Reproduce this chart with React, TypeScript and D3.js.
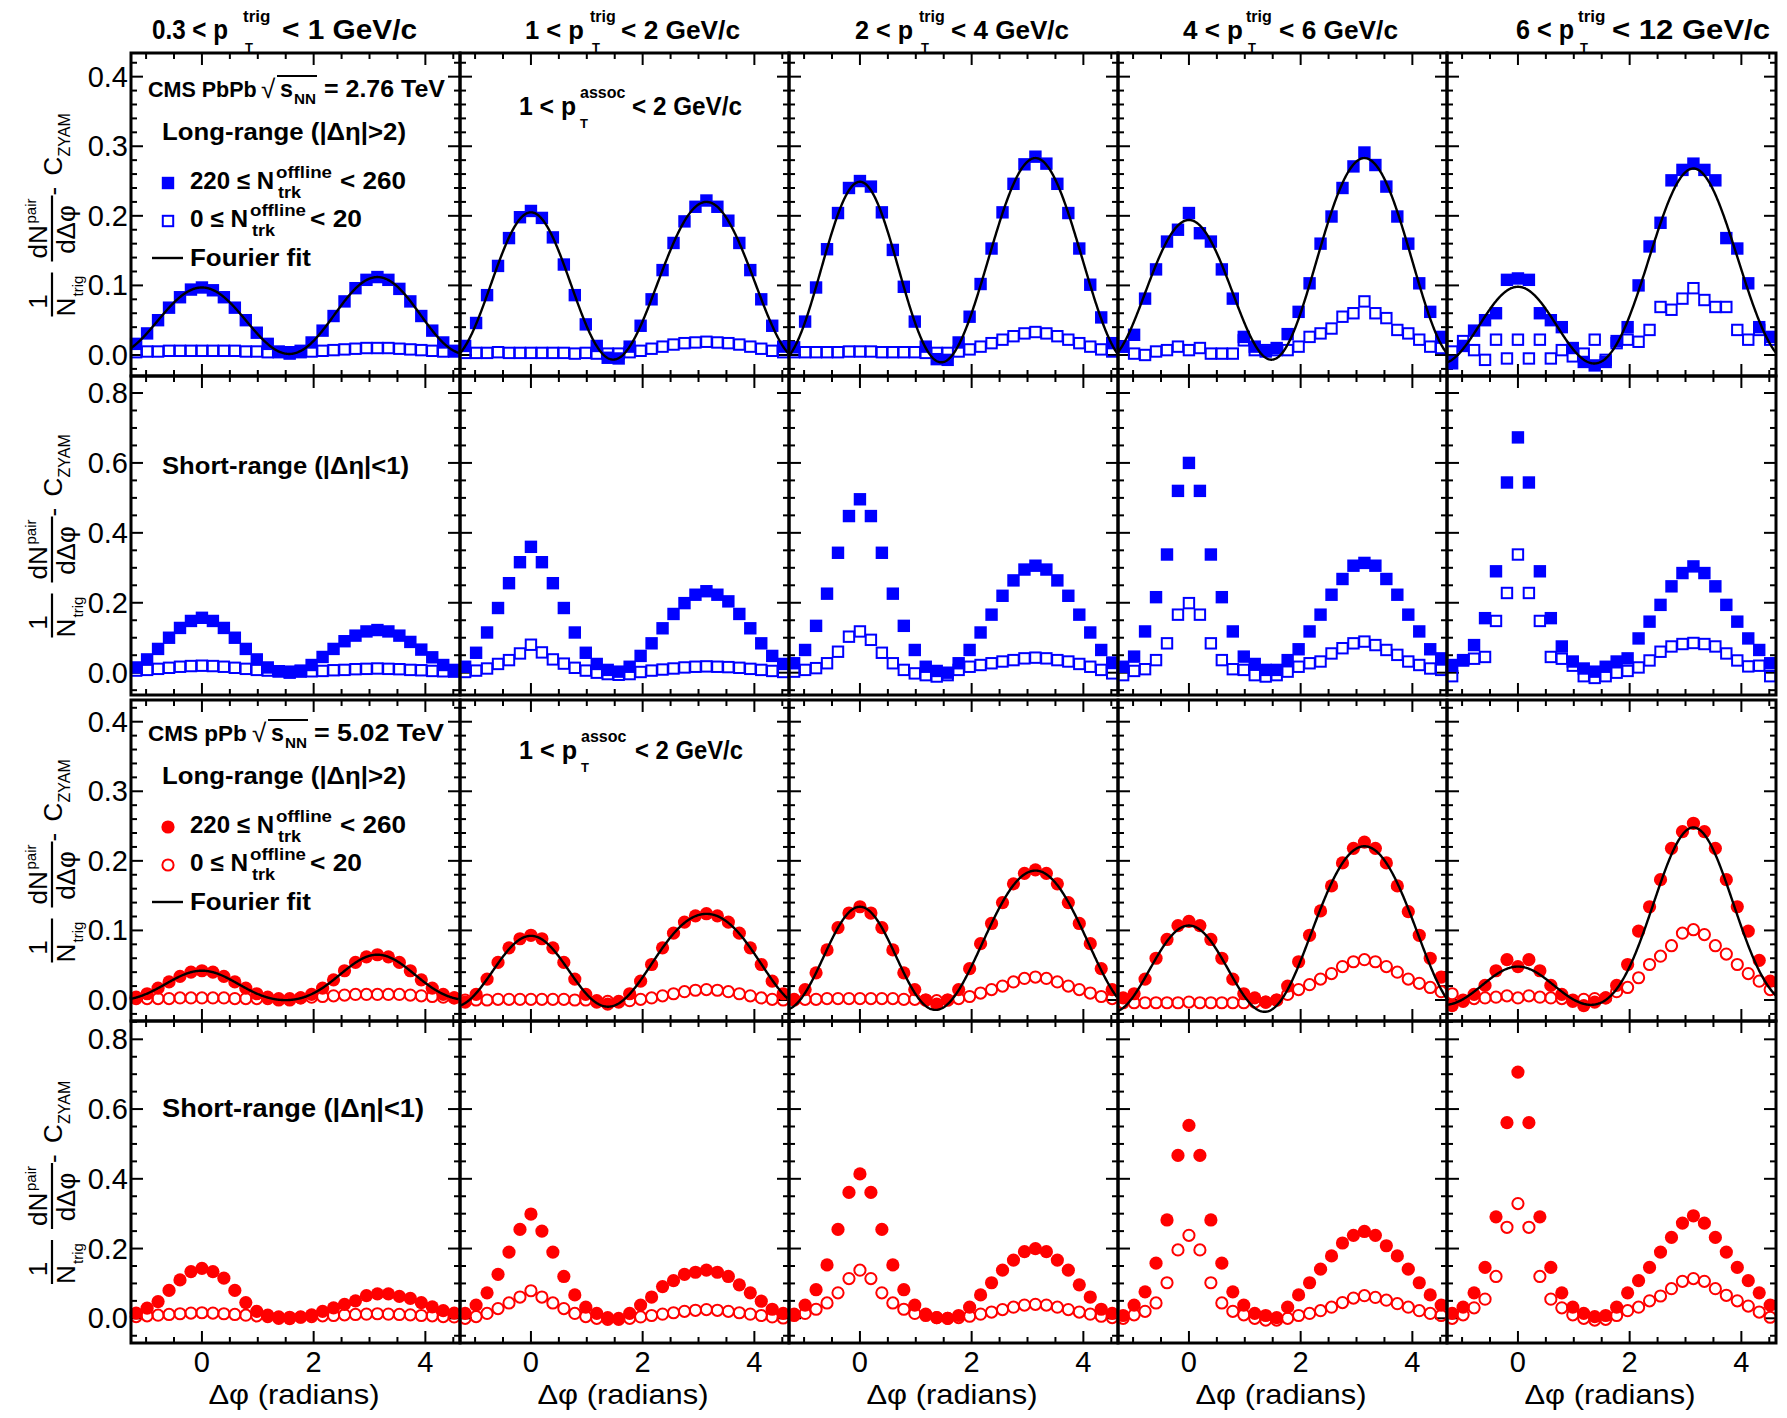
import React from "react";
import * as d3 from "d3";

const FONT = "'Liberation Sans', Arial, Helvetica, sans-serif";
const BLUE = "#0000ff";
const RED = "#ff0000";

// Δφ bins: Δφ = k·π/16, k = -6 … 23
const BIN_K = d3.range(-6, 24);
const DPHI = BIN_K.map((k) => (k * Math.PI) / 16);
const DPHI_MIN = -1.27;
const DPHI_MAX = 4.62;

const PT_TRIG_LO = ["0.3", "1", "2", "4", "6"];
const PT_TRIG_HI = ["1", "2", "4", "6", "12"];
const X_TICKS = [0, 2, 4];

// ---------- PbPb, long-range (|Δη|>2) ----------
const PBPB_LR_HIGH_1 = [0.016,0.031,0.050,0.068,0.083,0.094, 0.097, 0.093,0.083,0.068,0.050,0.032,0.016,0.005,0.002, 0.006,0.018,0.035,0.056,0.077,0.096,0.108,0.112, 0.108,0.095,0.077,0.056,0.035,0.018,0.006];
const PBPB_LR_LOW_1 = [0.004,0.005,0.005,0.006,0.006,0.006, 0.006, 0.006,0.006,0.006,0.005,0.005,0.004,0.004,0.004, 0.004,0.005,0.006,0.007,0.008,0.009,0.010,0.010, 0.010,0.009,0.008,0.007,0.006,0.005,0.005];
const PBPB_LR_HIGH_2 = [0.013,0.046,0.086,0.128,0.168,0.198, 0.207, 0.197,0.169,0.130,0.086,0.044,0.013,-0.004,-0.005, 0.012,0.042,0.080,0.122,0.161,0.192,0.213,0.222, 0.213,0.193,0.161,0.122,0.080,0.042,0.012];
const PBPB_LR_LOW_2 = [0.003,0.003,0.003,0.004,0.003,0.003, 0.003, 0.003,0.003,0.003,0.002,0.003,0.002,0.002,0.002, 0.004,0.006,0.009,0.012,0.015,0.017,0.018,0.019, 0.018,0.017,0.015,0.012,0.009,0.006,0.004];
const PBPB_LR_HIGH_3 = [0.011,0.048,0.097,0.152,0.204,0.240, 0.250, 0.242,0.205,0.151,0.098,0.048,0.012,-0.006,-0.007, 0.018,0.055,0.102,0.153,0.205,0.246,0.274,0.285, 0.275,0.246,0.204,0.153,0.101,0.054,0.017];
const PBPB_LR_LOW_3 = [0.004,0.004,0.004,0.004,0.004,0.005, 0.005, 0.005,0.004,0.004,0.004,0.004,0.003,0.003,0.003, 0.005,0.008,0.012,0.017,0.022,0.027,0.031,0.033, 0.031,0.027,0.022,0.017,0.012,0.008,0.005];
const PBPB_LR_HIGH_4 = [0.012,0.029,0.081,0.123,0.163,0.180, 0.204, 0.175,0.163,0.123,0.081,0.026,0.012,0.005,0.010, 0.030,0.062,0.103,0.160,0.199,0.240,0.271,0.291, 0.273,0.242,0.199,0.160,0.103,0.062,0.026];
const PBPB_LR_LOW_4 = [0.012,0.002,0.000,0.005,0.007,0.012, 0.007, 0.010,0.002,0.002,0.002,0.021,0.007,0.007,0.007, 0.007,0.012,0.026,0.031,0.038,0.055,0.060,0.077, 0.060,0.053,0.036,0.031,0.022,0.012,0.010];
const PBPB_LR_HIGH_5 = [-0.012,0.013,0.035,0.050,0.060,0.108, 0.110, 0.108,0.060,0.050,0.040,0.010,-0.010,-0.015,-0.010, 0.020,0.040,0.100,0.156,0.190,0.251,0.266,0.275, 0.266,0.251,0.168,0.153,0.103,0.040,0.026];
const PBPB_LR_LOW_5 = [0.005,0.020,0.007,-0.007,0.022,-0.005, 0.022, -0.005,0.022,-0.005,0.007,-0.002,0.002,0.022,-0.007, 0.017,0.022,0.019,0.036,0.069,0.065,0.081,0.096, 0.079,0.069,0.069,0.036,0.022,0.036,0.022];

// ---------- PbPb, short-range (|Δη|<1) ----------
const PBPB_SR_HIGH_1 = [0.015,0.038,0.068,0.100,0.128,0.148, 0.157, 0.148,0.128,0.100,0.068,0.038,0.015,0.004,0.000, 0.006,0.022,0.045,0.068,0.090,0.106,0.118,0.122, 0.118,0.106,0.088,0.066,0.044,0.022,0.008];
const PBPB_SR_LOW_1 = [0.006,0.008,0.011,0.014,0.017,0.019, 0.020, 0.019,0.017,0.014,0.011,0.008,0.006,0.004,0.003, 0.003,0.004,0.005,0.007,0.008,0.010,0.011,0.012, 0.011,0.010,0.008,0.007,0.005,0.004,0.003];
const PBPB_SR_HIGH_2 = [0.017,0.057,0.115,0.185,0.256,0.316, 0.360, 0.316,0.256,0.185,0.115,0.057,0.025,0.008,0.003, 0.017,0.048,0.084,0.127,0.168,0.199,0.223,0.233, 0.223,0.204,0.168,0.127,0.084,0.048,0.025];
const PBPB_SR_LOW_2 = [0.002,0.006,0.012,0.025,0.036,0.055, 0.080, 0.058,0.038,0.026,0.014,0.006,0.000,-0.004,-0.006, -0.004,0.002,0.006,0.009,0.012,0.015,0.017,0.018, 0.017,0.016,0.014,0.011,0.008,0.005,0.002];
const PBPB_SR_HIGH_3 = [0.027,0.065,0.134,0.226,0.343,0.448, 0.496, 0.448,0.343,0.226,0.134,0.065,0.017,0.005,0.000, 0.027,0.065,0.115,0.166,0.220,0.264,0.295,0.306, 0.295,0.264,0.220,0.166,0.115,0.065,0.029];
const PBPB_SR_LOW_3 = [0.003,0.008,0.013,0.027,0.060,0.103, 0.118, 0.094,0.057,0.027,0.008,-0.002,-0.007,-0.011,-0.007, 0.008,0.017,0.022,0.027,0.032,0.036,0.041,0.043, 0.041,0.036,0.032,0.025,0.017,0.008,-0.002];
const PBPB_SR_HIGH_4 = [0.017,0.046,0.118,0.216,0.338,0.520, 0.600, 0.520,0.338,0.216,0.118,0.046,0.025,0.008,0.008, 0.036,0.067,0.118,0.166,0.223,0.268,0.306,0.314, 0.306,0.268,0.223,0.166,0.118,0.067,0.041];
const PBPB_SR_LOW_4 = [-0.007,0.005,0.010,0.036,0.084,0.166, 0.199, 0.166,0.084,0.036,0.010,0.008,-0.007,-0.011,-0.007, 0.003,0.017,0.027,0.032,0.055,0.070,0.084,0.089, 0.079,0.065,0.051,0.032,0.022,0.012,0.008];
const PBPB_SR_HIGH_5 = [0.022,0.036,0.079,0.156,0.290,0.544, 0.673, 0.544,0.290,0.156,0.075,0.032,0.012,0.003,0.017, 0.032,0.041,0.098,0.146,0.194,0.247,0.285,0.304, 0.285,0.247,0.194,0.146,0.098,0.065,0.027];
const PBPB_SR_LOW_5 = [-0.010,0.035,0.040,0.045,0.148,0.228, 0.338, 0.228,0.148,0.045,0.040,0.020,-0.010,-0.015,-0.010, 0.000,0.005,0.015,0.035,0.060,0.075,0.082,0.085, 0.082,0.075,0.055,0.035,0.018,0.020,-0.010];

// ---------- pPb, long-range (|Δη|>2) ----------
const PPB_LR_HIGH_1 = [0.004,0.009,0.017,0.026,0.034,0.040, 0.042, 0.040,0.034,0.026,0.017,0.009,0.004,0.000,0.000, 0.003,0.008,0.017,0.029,0.042,0.054,0.062,0.065, 0.062,0.054,0.042,0.029,0.017,0.008,0.003];
const PPB_LR_LOW_1 = [0.002,0.002,0.002,0.002,0.003,0.003, 0.003, 0.003,0.003,0.002,0.002,0.002,0.002,0.002,0.002, 0.003,0.004,0.005,0.006,0.007,0.008,0.008,0.008, 0.008,0.008,0.007,0.006,0.005,0.004,0.003];
const PPB_LR_HIGH_2 = [-0.003,0.008,0.030,0.054,0.075,0.088, 0.093, 0.088,0.075,0.054,0.030,0.008,-0.003,-0.006,-0.003, 0.009,0.027,0.051,0.075,0.096,0.112,0.121,0.124, 0.121,0.112,0.096,0.075,0.051,0.027,0.009];
const PPB_LR_LOW_2 = [0.000,0.000,0.000,0.001,0.001,0.001, 0.001, 0.001,0.001,0.001,0.000,0.000,-0.001,-0.002,-0.002, -0.001,0.001,0.003,0.006,0.009,0.012,0.014,0.015, 0.014,0.012,0.009,0.006,0.003,0.001,0.000];
const PPB_LR_HIGH_3 = [0.000,0.015,0.039,0.072,0.104,0.125, 0.134, 0.125,0.104,0.072,0.039,0.015,0.000,-0.006,0.000, 0.015,0.045,0.081,0.110,0.140,0.167,0.182,0.187, 0.182,0.167,0.140,0.110,0.081,0.045,0.015];
const PPB_LR_LOW_3 = [0.001,0.001,0.001,0.002,0.002,0.002, 0.002, 0.002,0.002,0.002,0.001,0.001,0.000,-0.001,0.000, 0.002,0.005,0.010,0.015,0.020,0.026,0.031,0.033, 0.031,0.026,0.020,0.015,0.010,0.005,0.002];
const PPB_LR_HIGH_4 = [0.003,0.009,0.030,0.060,0.087,0.107, 0.113, 0.107,0.087,0.060,0.030,0.009,0.003,-0.003,0.000, 0.020,0.055,0.093,0.128,0.164,0.197,0.218,0.227, 0.218,0.197,0.164,0.127,0.093,0.060,0.033];
const PPB_LR_LOW_4 = [-0.004,-0.004,-0.004,-0.004,-0.004,-0.004, -0.003, -0.004,-0.004,-0.004,-0.004,-0.004,-0.003,-0.003,0.000, 0.008,0.015,0.022,0.030,0.038,0.048,0.055,0.058, 0.055,0.048,0.040,0.030,0.024,0.018,0.012];
const PPB_LR_HIGH_5 = [-0.008,-0.002,0.008,0.021,0.042,0.058, 0.048, 0.058,0.042,0.021,0.008,-0.002,-0.008,-0.003,0.003, 0.021,0.051,0.099,0.134,0.173,0.218,0.242,0.254, 0.242,0.218,0.173,0.134,0.099,0.057,0.027];
const PPB_LR_LOW_5 = [0.009,0.000,0.002,0.003,0.004,0.006, 0.003, 0.006,0.004,0.003,0.002,0.000,0.001,0.002,0.003, 0.012,0.018,0.032,0.051,0.063,0.078,0.096,0.101, 0.094,0.078,0.066,0.051,0.038,0.027,0.015];

// ---------- pPb, short-range (|Δη|<1) ----------
const PPB_SR_HIGH_1 = [0.015,0.029,0.048,0.080,0.110,0.134, 0.143, 0.134,0.115,0.080,0.045,0.020,0.009,0.000,-0.001, 0.003,0.010,0.020,0.030,0.040,0.050,0.065,0.070, 0.070,0.063,0.057,0.045,0.033,0.022,0.015];
const PPB_SR_LOW_1 = [0.005,0.007,0.009,0.011,0.013,0.015, 0.016, 0.015,0.013,0.011,0.009,0.007,0.005,0.004,0.003, 0.004,0.005,0.007,0.008,0.010,0.011,0.012,0.013, 0.012,0.011,0.010,0.008,0.007,0.005,0.004];
const PPB_SR_HIGH_2 = [0.014,0.038,0.073,0.126,0.190,0.255, 0.299, 0.250,0.190,0.120,0.067,0.032,0.014,0.002,0.000, 0.014,0.038,0.061,0.091,0.108,0.126,0.132,0.138, 0.132,0.120,0.096,0.073,0.049,0.026,0.014];
const PPB_SR_LOW_2 = [0.000,0.005,0.014,0.028,0.044,0.061, 0.079, 0.061,0.044,0.028,0.014,0.005,0.000,-0.003,-0.003, 0.000,0.004,0.008,0.012,0.016,0.020,0.023,0.025, 0.023,0.020,0.016,0.012,0.008,0.004,0.001];
const PPB_SR_HIGH_3 = [0.012,0.038,0.082,0.153,0.255,0.361, 0.414, 0.361,0.255,0.153,0.082,0.038,0.012,0.002,0.000, 0.008,0.032,0.067,0.102,0.138,0.167,0.191,0.200, 0.191,0.167,0.138,0.096,0.061,0.026,0.014];
const PPB_SR_LOW_3 = [0.008,0.014,0.026,0.044,0.073,0.114, 0.138, 0.114,0.073,0.044,0.026,0.014,0.008,0.002,0.000, 0.002,0.006,0.012,0.018,0.025,0.032,0.038,0.040, 0.038,0.032,0.025,0.018,0.012,0.006,0.002];
const PPB_SR_HIGH_4 = [0.008,0.038,0.076,0.158,0.282,0.467, 0.553, 0.467,0.282,0.158,0.076,0.038,0.014,0.008,0.002, 0.032,0.067,0.102,0.141,0.179,0.216,0.238,0.249, 0.238,0.208,0.179,0.141,0.102,0.067,0.038];
const PPB_SR_LOW_4 = [0.000,0.010,0.020,0.044,0.102,0.196, 0.238, 0.196,0.102,0.044,0.020,0.010,0.000,-0.005,-0.005, 0.000,0.008,0.014,0.022,0.032,0.045,0.058,0.065, 0.060,0.052,0.042,0.032,0.022,0.014,0.008];
const PPB_SR_HIGH_5 = [0.014,0.032,0.073,0.146,0.291,0.561, 0.706, 0.561,0.291,0.146,0.073,0.032,0.014,0.005,0.008, 0.032,0.073,0.108,0.146,0.190,0.232,0.273,0.294, 0.273,0.232,0.190,0.146,0.108,0.073,0.038];
const PPB_SR_LOW_5 = [0.000,0.010,0.030,0.055,0.120,0.261, 0.329, 0.261,0.120,0.055,0.030,0.010,0.000,-0.005,-0.003, 0.008,0.022,0.032,0.050,0.064,0.085,0.106,0.114, 0.106,0.085,0.066,0.050,0.035,0.018,0.003];

// Fourier fit coefficients [a0, cos Δφ, cos 2Δφ, cos 3Δφ, cos 4Δφ]
const PBPB_FIT = [
  [0.053, -0.006, 0.0515, -0.0015, 0],
  [0.104, -0.0165, 0.1085, 0.009, 0],
  [0.1275, -0.028, 0.1365, 0.011, 0.002],
  [0.1195, -0.0456, 0.1215, 0.0011, -0.0025],
  [0.0875, -0.0814, 0.094, -0.0036, 0.0015],
];
const PPB_FIT = [
  [0.0249, -0.01, 0.0268, -0.0015, 0.0019],
  [0.052, -0.0238, 0.0565, 0.008, -0.0005],
  [0.0758, -0.0381, 0.083, 0.0121, 0.0012],
  [0.0798, -0.0635, 0.086, 0.0065, -0.0018],
  [0.0705, -0.0889, 0.074, -0.0111, 0.0035],
];

const ROWS_DATA = [
  { high: [PBPB_LR_HIGH_1, PBPB_LR_HIGH_2, PBPB_LR_HIGH_3, PBPB_LR_HIGH_4, PBPB_LR_HIGH_5], low: [PBPB_LR_LOW_1, PBPB_LR_LOW_2, PBPB_LR_LOW_3, PBPB_LR_LOW_4, PBPB_LR_LOW_5], fit: PBPB_FIT, color: BLUE, shape: "square" },
  { high: [PBPB_SR_HIGH_1, PBPB_SR_HIGH_2, PBPB_SR_HIGH_3, PBPB_SR_HIGH_4, PBPB_SR_HIGH_5], low: [PBPB_SR_LOW_1, PBPB_SR_LOW_2, PBPB_SR_LOW_3, PBPB_SR_LOW_4, PBPB_SR_LOW_5], fit: null, color: BLUE, shape: "square" },
  { high: [PPB_LR_HIGH_1, PPB_LR_HIGH_2, PPB_LR_HIGH_3, PPB_LR_HIGH_4, PPB_LR_HIGH_5], low: [PPB_LR_LOW_1, PPB_LR_LOW_2, PPB_LR_LOW_3, PPB_LR_LOW_4, PPB_LR_LOW_5], fit: PPB_FIT, color: RED, shape: "circle" },
  { high: [PPB_SR_HIGH_1, PPB_SR_HIGH_2, PPB_SR_HIGH_3, PPB_SR_HIGH_4, PPB_SR_HIGH_5], low: [PPB_SR_LOW_1, PPB_SR_LOW_2, PPB_SR_LOW_3, PPB_SR_LOW_4, PPB_SR_LOW_5], fit: null, color: RED, shape: "circle" },
];

// ---------- layout ----------
const W = 1787;
const H = 1418;
const PLOT_X0 = 131;
const COL_W = 329;
const ROW_LAYOUT = [
  { top: 53, bottom: 376, domain: [-0.0302, 0.434], major: 0.1, minor: 0.02 },
  { top: 376, bottom: 695, domain: [-0.0638, 0.8486], major: 0.2, minor: 0.05 },
  { top: 700, bottom: 1021, domain: [-0.0302, 0.4312], major: 0.1, minor: 0.02 },
  { top: 1021, bottom: 1343, domain: [-0.0708, 0.8525], major: 0.2, minor: 0.05 },
];

const fmt1 = d3.format(".1f");

function fourier(c: number[], x: number) {
  return c[0] + c[1] * Math.cos(x) + c[2] * Math.cos(2 * x) + c[3] * Math.cos(3 * x) + c[4] * Math.cos(4 * x);
}

function T({ x, y, size, w, bold = true, children, anchor }: any) {
  return (
    <text
      x={x}
      y={y}
      fontSize={size}
      fontWeight={bold ? "bold" : "normal"}
      fontFamily={FONT}
      textAnchor={anchor}
      {...(w ? { textLength: w, lengthAdjust: "spacingAndGlyphs" } : {})}
    >
      {children}
    </text>
  );
}

function Marker({ x, y, shape, color, filled }: any) {
  if (shape === "square") {
    return filled ? (
      <rect x={x - 6.2} y={y - 6.2} width={12.4} height={12.4} fill={color} />
    ) : (
      <rect x={x - 5.2} y={y - 5.2} width={10.4} height={10.4} fill="none" stroke={color} strokeWidth={2} />
    );
  }
  return filled ? (
    <circle cx={x} cy={y} r={6.6} fill={color} />
  ) : (
    <circle cx={x} cy={y} r={5.6} fill="none" stroke={color} strokeWidth={2} />
  );
}

function Panel({ row, col }: { row: number; col: number }) {
  const L = ROW_LAYOUT[row];
  const D = ROWS_DATA[row];
  const left = PLOT_X0 + col * COL_W;
  const right = left + COL_W;
  const x = d3.scaleLinear().domain([DPHI_MIN, DPHI_MAX]).range([left, right]);
  const y = d3.scaleLinear().domain(L.domain).range([L.bottom, L.top]);

  const yMajors = d3.range(0, Math.floor(L.domain[1] / L.major + 1e-6) + 1).map((i) => i * L.major);
  const yMinors = d3
    .range(Math.ceil(L.domain[0] / L.minor - 1e-6), Math.floor(L.domain[1] / L.minor + 1e-6) + 1)
    .map((i) => i * L.minor)
    .filter((v) => Math.abs(v / L.major - Math.round(v / L.major)) > 1e-6);
  const xMinors = d3
    .range(-2, 10)
    .map((i) => i * 0.5)
    .filter((v) => v > DPHI_MIN && v < DPHI_MAX && Math.abs(v % 2) > 1e-6);

  const high = D.high[col];
  const low = D.low[col];
  const fitC = D.fit ? D.fit[col] : null;
  const line = d3
    .line<number>()
    .x((v) => x(v))
    .y((v) => y(fitC ? fourier(fitC, v) : 0));
  const fitXs = d3.range(DPHI_MIN, DPHI_MAX + 0.001, 0.01);
  const clipId = `clip-${row}-${col}`;

  const tick = (x1: number, y1: number, x2: number, y2: number, key: string) => (
    <line key={key} x1={x1} y1={y1} x2={x2} y2={y2} stroke="#000" strokeWidth={2} />
  );
  const MJ = 12;
  const MN = 6;
  const cx = (left + right) / 2;

  return (
    <g>
      <defs>
        <clipPath id={clipId}>
          <rect x={left} y={L.top} width={COL_W} height={L.bottom - L.top} />
        </clipPath>
      </defs>
      {yMajors.map((v, i) => (
        <g key={`ym${i}`}>
          {tick(left, y(v), left + MJ, y(v), "l")}
          {tick(right, y(v), right - MJ, y(v), "r")}
        </g>
      ))}
      {yMinors.map((v, i) => (
        <g key={`yn${i}`}>
          {tick(left, y(v), left + MN, y(v), "l")}
          {tick(right, y(v), right - MN, y(v), "r")}
        </g>
      ))}
      {X_TICKS.map((v, i) => (
        <g key={`xm${i}`}>
          {tick(x(v), L.bottom, x(v), L.bottom - MJ, "b")}
          {tick(x(v), L.top, x(v), L.top + MJ, "t")}
        </g>
      ))}
      {xMinors.map((v, i) => (
        <g key={`xn${i}`}>
          {tick(x(v), L.bottom, x(v), L.bottom - MN, "b")}
          {tick(x(v), L.top, x(v), L.top + MN, "t")}
        </g>
      ))}
      <g>
        {high.map((v, i) => (
          <Marker key={`h${i}`} x={x(DPHI[i])} y={y(v)} shape={D.shape} color={D.color} filled />
        ))}
        {low.map((v, i) => (
          <Marker key={`o${i}`} x={x(DPHI[i])} y={y(v)} shape={D.shape} color={D.color} filled={false} />
        ))}
      </g>
      {fitC && (
        <path d={line(fitXs) || ""} fill="none" stroke="#000" strokeWidth={2.4} clipPath={`url(#${clipId})`} />
      )}
      <rect x={left} y={L.top} width={COL_W} height={L.bottom - L.top} fill="none" stroke="#000" strokeWidth={3} />
      {col === 0 &&
        yMajors.map((v, i) => (
          <T key={`yl${i}`} x={128} y={y(v) + 10} size={29} bold={false} anchor="end">
            {fmt1(v)}
          </T>
        ))}
      {row === 3 &&
        X_TICKS.map((v, i) => (
          <T key={`xl${i}`} x={x(v)} y={1372} size={29} bold={false} anchor="middle">
            {String(v)}
          </T>
        ))}
      {row === 3 && (
        <T x={cx - 87} y={1404} size={28} bold={false} w={171}>
          Δφ (radians)
        </T>
      )}
    </g>
  );
}

function YTitle({ cy }: { cy: number }) {
  const yb = cy + 102;
  return (
    <g transform={`translate(52,${yb}) rotate(-90)`} fontFamily={FONT} fill="#000">
      <text x={15} y={-5} fontSize={26} textAnchor="middle">1</text>
      <line x1={0} x2={44} y1={0} y2={0} stroke="#000" strokeWidth={2.2} />
      <text x={0} y={23} fontSize={26}>N</text>
      <text x={20} y={31} fontSize={15}>trig</text>
      <line x1={55} x2={121} y1={0} y2={0} stroke="#000" strokeWidth={2.2} />
      <text x={58} y={-5} fontSize={26}>dN</text>
      <text x={93} y={-16} fontSize={15}>pair</text>
      <text x={87} y={23} fontSize={26} textAnchor="middle">dΔφ</text>
      <text x={121} y={10} fontSize={26}>-</text>
      <text x={141} y={10} fontSize={26}>C</text>
      <text x={160} y={18} fontSize={16}>ZYAM</text>
    </g>
  );
}

function PtLabel({ x, w1, supX, tX, restX, w2, y, lo, hi, sup, size, supSize }: any) {
  return (
    <g fill="#000">
      <T x={x} y={y} size={size} w={w1}>{`${lo} < p`}</T>
      <T x={supX} y={y - 17} size={supSize}>{sup}</T>
      <T x={tX} y={y + 13} size={13}>T</T>
      <T x={restX} y={y} size={size} w={w2}>{`< ${hi} GeV/c`}</T>
    </g>
  );
}

// column title geometry: [start, width of "a < p", superscript x, rest x, rest width, font size, sup size]
const COL_TITLE_GEOM = [
  [152, 76, 243, 282, 135, 28, 17],
  [525, 59, 590, 621, 119, 26, 16],
  [855, 58, 919, 951, 118, 26, 16],
  [1183, 60, 1246, 1279, 119, 26, 16],
  [1516, 58, 1578, 1612, 158, 28, 17],
];

function Legend({ t, system, sysSize, rootX, energy, eqX, eqW, shape, color }: any) {
  return (
    <g fill="#000">
      <T x={148} y={t} size={sysSize}>{system}</T>
      <T x={rootX} y={t + 1} size={26} bold={false}>√</T>
      <T x={rootX + 19} y={t} size={24} w={13}>s</T>
      <T x={rootX + 33} y={t + 7} size={14} w={22}>NN</T>
      <line x1={rootX + 16} x2={rootX + 56} y1={t - 21} y2={t - 21} stroke="#000" strokeWidth={1.8} />
      <T x={eqX} y={t} size={24} w={eqW}>{`= ${energy} TeV`}</T>

      <T x={162} y={t + 43} size={24} w={244}>Long-range (|Δη|&gt;2)</T>

      <Marker x={168} y={t + 86} shape={shape} color={color} filled />
      <T x={190} y={t + 92} size={24} w={84}>220 ≤ N</T>
      <T x={276} y={t + 81} size={16} w={56}>offline</T>
      <T x={278} y={t + 101} size={16} w={23}>trk</T>
      <T x={340} y={t + 92} size={24} w={66}>&lt; 260</T>

      <Marker x={168} y={t + 124} shape={shape} color={color} filled={false} />
      <T x={190} y={t + 130} size={24} w={58}>0 ≤ N</T>
      <T x={250} y={t + 119} size={16} w={56}>offline</T>
      <T x={252} y={t + 139} size={16} w={23}>trk</T>
      <T x={310} y={t + 130} size={24} w={52}>&lt; 20</T>

      <line x1={152} x2={183} y1={t + 161} y2={t + 161} stroke="#000" strokeWidth={2.4} />
      <T x={190} y={t + 169} size={24} w={121}>Fourier fit</T>
    </g>
  );
}

export default function App() {
  const rowCenters = ROW_LAYOUT.map((r) => (r.top + r.bottom) / 2);
  return (
    <div style={{ position: "absolute", left: 0, top: 0, background: "#fff" }}>
      <svg width={W} height={H} viewBox={`0 0 ${W} ${H}`} style={{ display: "block", background: "#fff" }}>
        <rect x={0} y={0} width={W} height={H} fill="#fff" />
        {ROW_LAYOUT.map((_, r) => PT_TRIG_LO.map((_, c) => <Panel key={`p${r}-${c}`} row={r} col={c} />))}
        {rowCenters.map((cy, i) => (
          <YTitle key={`yt${i}`} cy={cy} />
        ))}
        {PT_TRIG_LO.map((lo, c) => {
          const g = COL_TITLE_GEOM[c];
          return (
            <PtLabel
              key={`ct${c}`}
              x={g[0]}
              w1={g[1]}
              supX={g[2]}
              tX={g[2] + 2}
              restX={g[3]}
              w2={g[4]}
              y={39}
              lo={lo}
              hi={PT_TRIG_HI[c]}
              sup="trig"
              size={g[5]}
              supSize={g[6]}
            />
          );
        })}
        <PtLabel x={519} w1={57} supX={580} tX={580} restX={632} w2={110} y={115} lo="1" hi="2" sup="assoc" size={25} supSize={16} />
        <PtLabel x={519} w1={58} supX={581} tX={581} restX={635} w2={108} y={759} lo="1" hi="2" sup="assoc" size={25} supSize={16} />
        <Legend t={97} system="CMS PbPb" sysSize={21.5} rootX={261} energy="2.76" eqX={324} eqW={121} shape="square" color={BLUE} />
        <Legend t={741} system="CMS pPb" sysSize={22.5} rootX={252} energy="5.02" eqX={314} eqW={130} shape="circle" color={RED} />
        <T x={162} y={474} size={24} w={247}>Short-range (|Δη|&lt;1)</T>
        <T x={162} y={1117} size={25} w={262}>Short-range (|Δη|&lt;1)</T>
      </svg>
    </div>
  );
}
